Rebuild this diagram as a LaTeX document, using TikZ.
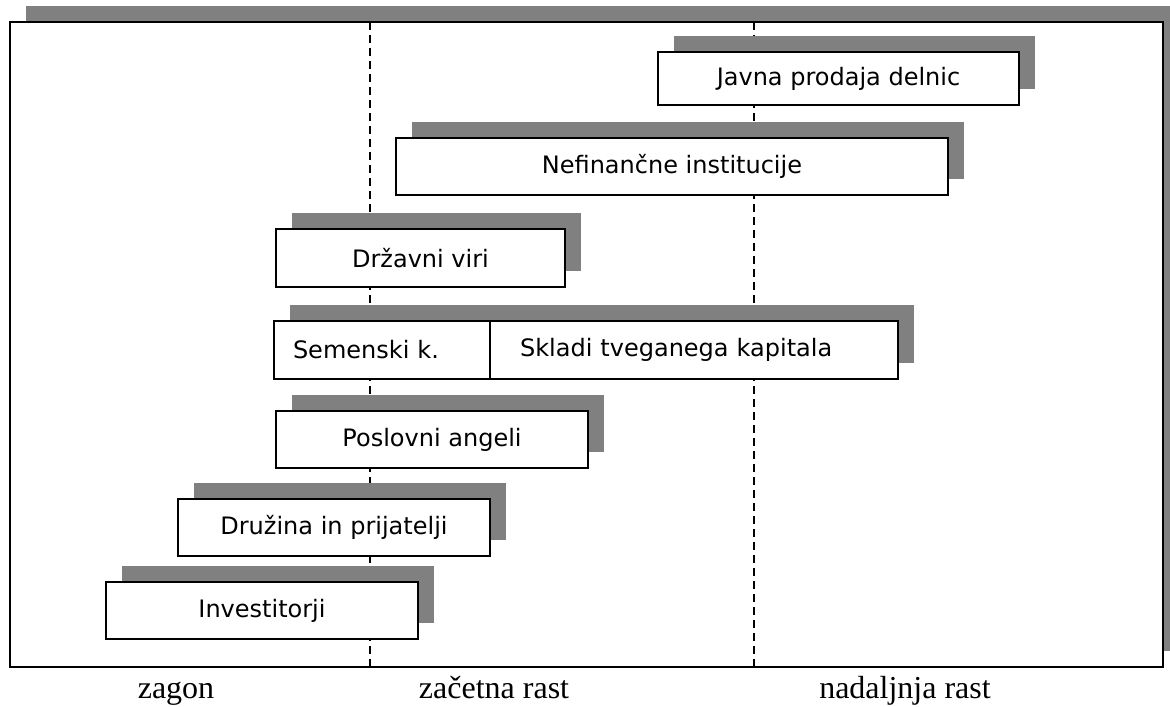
\documentclass[tikz,border=0pt]{standalone}
\usepackage{fontspec}
\setmainfont{Liberation Serif}
\newfontfamily\boxfont{DejaVu Sans}
\usetikzlibrary{shadows}
\definecolor{shadowgray}{RGB}{128,128,128}

\begin{document}
\begin{tikzpicture}[x=0.5pt, y=-0.5pt,
    stage/.style={rectangle, draw, fill=white, line width=1pt, inner sep=0pt, minimum height=28.5pt,
      font=\boxfont\fontsize{12}{14}\selectfont,
      general shadow={fill=shadowgray, shadow xshift=8pt, shadow yshift=8pt}},
    divider/.style={line width=0.8pt, dash pattern=on 4pt off 2.5pt},
    phase/.style={anchor=base, font=\fontsize{16}{19}\selectfont}]
    \useasboundingbox (0,0) rectangle (1170,706);

    \node[stage, minimum width=576.5pt, minimum height=322.5pt] (frame) at (586.5,344.5) {};

    \coordinate (split1_top) at (370,22);
    \coordinate (split1_bottom) at (370,667);
    \coordinate (split2_top) at (754,22);
    \coordinate (split2_bottom) at (754,667);
    \draw[divider] (split1_top) -- (split1_bottom);
    \draw[divider] (split2_top) -- (split2_bottom);

    \node[stage, minimum width=180.5pt, minimum height=26.5pt] (ipo) at (838.5,78.5) {Javna prodaja delnic};
    \node[stage, minimum width=276pt] (corporate) at (672,166) {Nefinančne institucije};
    \node[stage, minimum width=144.5pt, minimum height=29pt] (state) at (420.5,258) {Državni viri};
    \node[stage, minimum height=29pt, text width=89pt, inner xsep=9.5pt, align=left] (seed) at (382,350) {Semenski k.};
    \node[stage, minimum height=29pt, text width=174pt, inner xsep=15pt, align=left] (venture) at (694,350) {Skladi tveganega kapitala};
    \node[stage, minimum width=156pt] (angels) at (432,439.5) {Poslovni angeli};
    \node[stage, minimum width=156pt] (family) at (334,527.5) {Družina in prijatelji};
    \node[stage, minimum width=156pt] (investors) at (262,610.5) {Investitorji};

    \node[phase] (launch) at (176,698) {zagon};
    \node[phase] (early) at (494,698) {začetna rast};
    \node[phase] (later) at (905,698) {nadaljnja rast};

\end{tikzpicture}
\end{document}
